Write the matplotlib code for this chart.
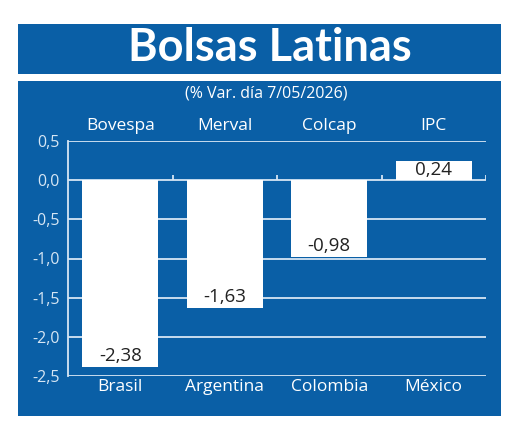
import matplotlib
matplotlib.use("Agg")
import matplotlib.pyplot as plt
import numpy as np
from matplotlib.patches import Rectangle

# data
paises = ["Brasil", "Argentina", "Colombia", "México"]
indices = ["Bovespa", "Merval", "Colcap", "IPC"]
variacion = [-2.38, -1.63, -0.98, 0.24]
yticks = [0.5, 0.0, -0.5, -1.0, -1.5, -2.0, -2.5]

azul = "#0a5fa6"
linea = "#d6e6f4"
plt.rcParams['font.family'] = ['Open Sans', 'DejaVu Sans']

fig = plt.figure(figsize=(5.2, 4.33), dpi=100)
fig.patch.set_facecolor("white")

# title band and main panel (behind the axes)
fig.patches.append(Rectangle((18/520, 1-74/433), 483/520, 50/433, transform=fig.transFigure,
                             facecolor=azul, edgecolor="none", zorder=-5))
fig.patches.append(Rectangle((18/520, 1-416/433), 483/520, 335/433, transform=fig.transFigure,
                             facecolor=azul, edgecolor="none", zorder=-5))
fig.text(270/520, 1-48/433, "Bolsas Latinas", color="white", fontsize=32.5, fontweight="bold",
         family=["Lato", "DejaVu Sans"], ha="center", va="center")
fig.text(266/520, 1-94/433, "(% Var. día 7/05/2026)", color="white", fontsize=11.5,
         ha="center", va="center")

ax = fig.add_axes([68/520, 1-376/433, 418/520, 235/433])
ax.set_zorder(2)
ax.set_facecolor("none")
x = np.arange(len(paises)) + 0.5
ax.set_xlim(0, len(paises))
ax.set_ylim(-2.5, 0.5)

for v in yticks:
    ax.axhline(v, color=linea, lw=1.3, zorder=1)
ax.vlines(np.arange(1, len(paises) + 1), 0, 0.065, color=linea, lw=1.3, zorder=1)

ax.bar(x, variacion, width=0.73, color="white", zorder=2)
for xi, v in zip(x, variacion):
    txt = f"{v:.2f}".replace(".", ",")
    if v < 0:
        ax.text(xi, v + 0.14, txt, ha="center", va="center", fontsize=13.5, color="#222222", zorder=3)
    else:
        ax.text(xi, v / 2 + 0.01, txt, ha="center", va="center", fontsize=13.5, color="#222222", zorder=3)

for s in ["top", "right", "bottom"]:
    ax.spines[s].set_visible(False)
ax.spines["left"].set_color(linea)
ax.spines["left"].set_linewidth(1.3)

ax.set_yticks(yticks)
ax.set_yticklabels([f"{v:.1f}".replace(".", ",") for v in yticks], color=linea, fontsize=11.5)
ax.tick_params(axis="y", length=0, pad=6)
ax.set_xticks(x)
ax.set_xticklabels(paises, color="white", fontsize=12.5)
ax.tick_params(axis="x", length=0, pad=2)

top = ax.secondary_xaxis("top")
top.set_xticks(x)
top.set_xticklabels(indices, color="white", fontsize=12.5)
top.tick_params(length=0, pad=5)
top.spines["top"].set_visible(False)

fig.savefig("out.png", dpi=100, facecolor="white")
